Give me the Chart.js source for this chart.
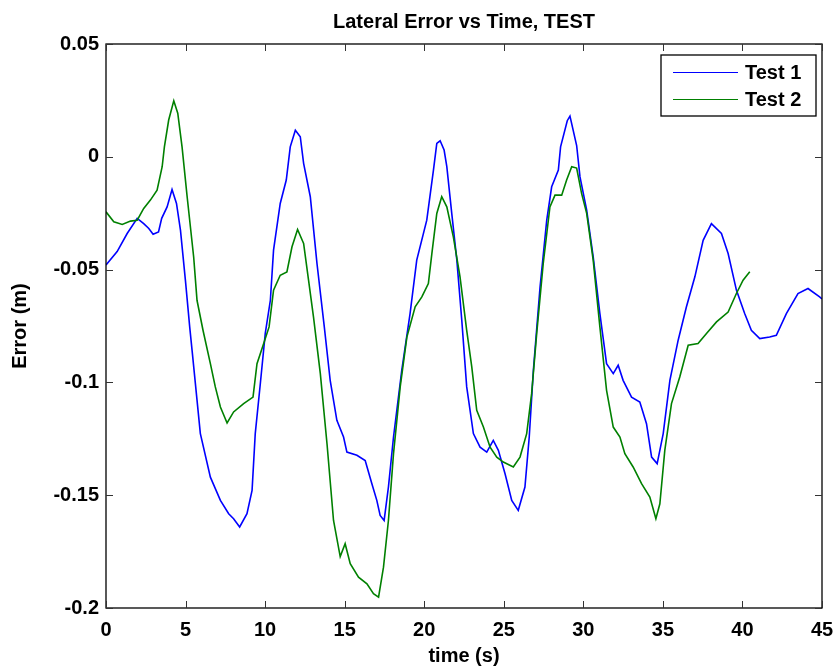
<!DOCTYPE html>
<html>
<head>
<meta charset="utf-8">
<script src="https://cdn.jsdelivr.net/npm/chart.js@4/dist/chart.umd.min.js"></script>
<style>
  body { margin: 0; background: #fff; }
  canvas { display: block; }
</style>
</head>
<body>
<canvas id="errChart" width="836" height="669"></canvas>
<script>
// values
const test1Time = [0, 0.7, 1.33, 1.96, 2.37, 2.69, 2.96, 3.3, 3.5, 3.84, 4.15, 4.43, 4.68, 4.99, 5.26, 5.41, 5.93, 6.56, 7.19, 7.71, 8.02, 8.4, 8.86, 9.18, 9.38, 9.7, 10.01, 10.33, 10.53, 10.95, 11.33, 11.58, 11.9, 12.21, 12.42, 12.84, 13.26, 13.72, 14.09, 14.51, 14.93, 15.14, 15.77, 16.29, 16.71, 17.02, 17.23, 17.48, 17.75, 18.07, 18.59, 19.11, 19.53, 20.16, 20.58, 20.79, 21.0, 21.25, 21.42, 21.73, 22.05, 22.36, 22.67, 23.09, 23.51, 23.93, 24.34, 24.66, 25.08, 25.5, 25.91, 26.33, 26.6, 26.86, 27.28, 27.7, 28.01, 28.43, 28.57, 28.99, 29.16, 29.58, 29.79, 30.21, 30.62, 31.04, 31.46, 31.88, 32.19, 32.5, 33.03, 33.55, 33.97, 34.29, 34.64, 35.02, 35.44, 35.96, 36.48, 37.01, 37.53, 38.05, 38.68, 39.1, 39.62, 40.14, 40.56, 41.09, 41.71, 42.13, 42.76, 43.49, 44.12, 44.85, 45];
const test1Error = [-0.048, -0.042, -0.034, -0.0273, -0.0296, -0.0318, -0.0343, -0.0333, -0.0273, -0.0222, -0.0145, -0.0207, -0.0325, -0.0547, -0.0754, -0.0858, -0.1227, -0.142, -0.1523, -0.1582, -0.1604, -0.1641, -0.1582, -0.1479, -0.1227, -0.1005, -0.0783, -0.0636, -0.0414, -0.0207, -0.0103, 0.0044, 0.0118, 0.0089, -0.0029, -0.0177, -0.0473, -0.0754, -0.0991, -0.1168, -0.1242, -0.1309, -0.1323, -0.1346, -0.1449, -0.1523, -0.159, -0.1612, -0.1464, -0.1242, -0.0946, -0.0695, -0.0458, -0.0281, -0.0059, 0.0059, 0.0071, 0.003, -0.0044, -0.0251, -0.0458, -0.0724, -0.102, -0.1227, -0.1287, -0.1309, -0.1257, -0.1301, -0.1405, -0.1523, -0.1567, -0.1464, -0.1242, -0.0946, -0.0577, -0.0281, -0.0133, -0.0059, 0.0044, 0.016, 0.018, 0.005, -0.0089, -0.0236, -0.0444, -0.0695, -0.0917, -0.0961, -0.0924, -0.0991, -0.1065, -0.1087, -0.1183, -0.1331, -0.136, -0.1227, -0.0991, -0.0813, -0.0665, -0.0532, -0.037, -0.0296, -0.034, -0.0429, -0.0591, -0.0695, -0.0769, -0.0806, -0.0799, -0.0791, -0.0695, -0.0606, -0.0584, -0.0621, -0.063];

const test2Time = [0, 0.49, 1.02, 1.54, 1.96, 2.37, 2.79, 3.21, 3.53, 3.67, 3.94, 4.26, 4.51, 4.78, 5.1, 5.51, 5.72, 6.1, 6.56, 6.87, 7.19, 7.61, 8.02, 8.65, 9.24, 9.49, 9.91, 10.25, 10.53, 10.95, 11.37, 11.69, 12.04, 12.42, 12.73, 13.04, 13.47, 13.89, 14.3, 14.72, 15.03, 15.35, 15.87, 16.4, 16.81, 17.13, 17.44, 17.75, 18.07, 18.49, 18.91, 19.43, 19.85, 20.26, 20.48, 20.79, 21.1, 21.42, 21.83, 22.25, 22.67, 22.99, 23.3, 23.72, 24.14, 24.56, 24.97, 25.6, 26.02, 26.44, 26.75, 27.07, 27.48, 27.9, 28.22, 28.64, 28.95, 29.27, 29.58, 29.89, 30.21, 30.62, 31.04, 31.46, 31.88, 32.3, 32.61, 33.13, 33.66, 34.18, 34.56, 34.81, 35.12, 35.54, 36.06, 36.59, 37.21, 37.74, 38.37, 39.1, 39.62, 40.04, 40.46];
const test2Error = [-0.0244, -0.0288, -0.03, -0.0285, -0.0281, -0.0229, -0.0192, -0.0148, -0.0044, 0.0044, 0.0163, 0.0248, 0.0193, 0.0044, -0.0177, -0.0444, -0.0636, -0.077, -0.0917, -0.102, -0.1109, -0.118, -0.1131, -0.1094, -0.1065, -0.0917, -0.0828, -0.0754, -0.0591, -0.0525, -0.051, -0.0399, -0.0322, -0.0384, -0.0547, -0.071, -0.0961, -0.1272, -0.1612, -0.1772, -0.1715, -0.1804, -0.1863, -0.1893, -0.1937, -0.1952, -0.1819, -0.1612, -0.1316, -0.102, -0.0799, -0.0665, -0.0621, -0.0562, -0.0429, -0.0251, -0.0177, -0.0222, -0.0355, -0.0532, -0.0769, -0.0932, -0.1124, -0.1198, -0.1287, -0.1331, -0.1353, -0.1375, -0.1331, -0.1227, -0.105, -0.0783, -0.0473, -0.0222, -0.017, -0.017, -0.0103, -0.0044, -0.005, -0.0162, -0.0251, -0.0458, -0.0754, -0.1035, -0.1198, -0.1242, -0.1316, -0.1375, -0.1449, -0.1508, -0.1604, -0.1538, -0.1301, -0.1094, -0.0976, -0.0835, -0.0828, -0.0783, -0.0732, -0.0688, -0.0606, -0.0547, -0.051];

const xTicks = [0, 5, 10, 15, 20, 25, 30, 35, 40, 45];
const yTicks = [-0.2, -0.15, -0.1, -0.05, 0, 0.05];
const yTickLabels = ['-0.2', '-0.15', '-0.1', '-0.05', '0', '0.05'];

const FONT = 'Liberation Sans, Arial, Helvetica, sans-serif';

function toPoints(xs, ys) {
  return xs.map((x, i) => ({ x: x, y: ys[i] }));
}

// white background, box with inward ticks, title, legend (matlab look)
const matlabFrame = {
  id: 'matlabFrame',
  beforeDraw(chart) {
    const ctx = chart.ctx;
    ctx.save();
    ctx.fillStyle = '#fff';
    ctx.fillRect(0, 0, chart.width, chart.height);
    ctx.restore();
  },
  afterDraw(chart) {
    const ctx = chart.ctx;
    const a = chart.chartArea;
    const xs = chart.scales.x, ys = chart.scales.y;
    const tl = 7;
    ctx.save();
    ctx.strokeStyle = '#000';
    ctx.lineWidth = 1.3;
    ctx.strokeRect(a.left, a.top, a.right - a.left, a.bottom - a.top);
    ctx.lineWidth = 1;
    ctx.strokeStyle = '#333';
    ctx.beginPath();
    xTicks.forEach(v => {
      const px = Math.round(xs.getPixelForValue(v)) + 0.5;
      ctx.moveTo(px, a.bottom); ctx.lineTo(px, a.bottom - tl);
      ctx.moveTo(px, a.top); ctx.lineTo(px, a.top + tl);
    });
    yTicks.forEach(v => {
      const py = Math.round(ys.getPixelForValue(v)) + 0.5;
      ctx.moveTo(a.left, py); ctx.lineTo(a.left + tl, py);
      ctx.moveTo(a.right, py); ctx.lineTo(a.right - tl, py);
    });
    ctx.stroke();

    // title over the plot area
    ctx.fillStyle = '#000';
    ctx.font = 'bold 20px ' + FONT;
    ctx.textAlign = 'center';
    ctx.textBaseline = 'alphabetic';
    ctx.fillText('Lateral Error vs Time, TEST', (a.left + a.right) / 2, 28);

    // legend box, top right inside
    const bx = a.right - 161, by = a.top + 11, bw = 155, bh = 61;
    ctx.fillStyle = '#fff';
    ctx.fillRect(bx, by, bw, bh);
    ctx.strokeStyle = '#000';
    ctx.lineWidth = 1.3;
    ctx.strokeRect(bx, by, bw, bh);
    chart.data.datasets.forEach((ds, i) => {
      const ly = by + 17.5 + i * 27;
      ctx.strokeStyle = ds.borderColor;
      ctx.lineWidth = 1.2;
      ctx.beginPath();
      ctx.moveTo(bx + 12, ly); ctx.lineTo(bx + 77, ly);
      ctx.stroke();
      ctx.fillStyle = '#000';
      ctx.font = 'bold 20px ' + FONT;
      ctx.textAlign = 'left';
      ctx.textBaseline = 'middle';
      ctx.fillText(ds.label, bx + 84, ly + 1);
    });
    ctx.restore();
  }
};

new Chart(document.getElementById('errChart'), {
  type: 'line',
  data: {
    datasets: [{
      label: 'Test 1',
      data: toPoints(test1Time, test1Error),
      borderColor: '#0000ff',
      borderWidth: 1.6,
      pointRadius: 0,
      order: 1
    }, {
      label: 'Test 2',
      data: toPoints(test2Time, test2Error),
      borderColor: '#008000',
      borderWidth: 1.6,
      pointRadius: 0,
      order: 0
    }]
  },
  options: {
    responsive: false,
    animation: false,
    layout: { padding: { top: 44, right: 14, left: 0, bottom: 0 } },
    plugins: {
      legend: { display: false },
      title: { display: false },
      tooltip: { enabled: false }
    },
    scales: {
      x: {
        type: 'linear',
        min: 0, max: 45,
        afterBuildTicks: s => { s.ticks = xTicks.map(v => ({ value: v })); },
        afterFit: s => { s.height = 61; s.paddingLeft = 0; s.paddingRight = 0; },
        grid: { display: false, drawTicks: false },
        border: { display: false },
        ticks: {
          color: '#000',
          font: { family: FONT, size: 20, weight: 'bold' },
          padding: 10,
          maxRotation: 0
        },
        title: {
          display: true,
          text: 'time (s)',
          color: '#000',
          font: { family: FONT, size: 20, weight: 'bold' },
          padding: { top: 0, bottom: 1 }
        }
      },
      y: {
        type: 'linear',
        min: -0.2, max: 0.05,
        afterBuildTicks: s => { s.ticks = yTicks.map(v => ({ value: v })); },
        afterFit: s => { s.width = 106; s.paddingTop = 0; s.paddingBottom = 0; },
        grid: { display: false, drawTicks: false },
        border: { display: false },
        ticks: {
          color: '#000',
          font: { family: FONT, size: 20, weight: 'bold' },
          padding: 7,
          callback: (v, i) => yTickLabels[i]
        },
        title: {
          display: true,
          text: 'Error (m)',
          color: '#000',
          font: { family: FONT, size: 20, weight: 'bold' },
          padding: { top: 8, bottom: 0 }
        }
      }
    }
  },
  plugins: [matlabFrame]
});
</script>
</body>
</html>
